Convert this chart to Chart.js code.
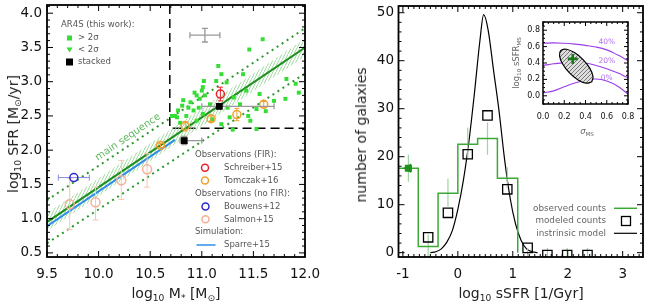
<!DOCTYPE html>
<html>
<head>
<meta charset="utf-8">
<script src="https://cdn.jsdelivr.net/npm/chart.js@4.4.1/dist/chart.umd.min.js"></script>
<style>
  body { margin: 0; width: 649px; height: 307px; overflow: hidden; background: #fff; position: relative; font-family: "DejaVu Sans", sans-serif; }
  canvas { position: absolute; }
  .lbl { position: absolute; white-space: nowrap; color: #222; font-size: 14px; transform: translate(-50%, -50%); }
  .rot { transform: translate(-50%, -50%) rotate(-90deg); }
  .lbl sub { font-size: 0.65em; vertical-align: -0.35em; line-height: 0; }
  .small { font-size: 8.5px; color: #666; }
</style>
</head>
<body>
<canvas id="left" width="330" height="307" style="left:0;top:0"></canvas>
<canvas id="right" width="319" height="307" style="left:330px;top:0"></canvas>
<canvas id="inset" width="130" height="125" style="left:505px;top:12px"></canvas>
<div class="lbl rot" style="left:13px;top:134px">log<sub>10</sub> SFR [M<sub>⊙</sub>/yr]</div>
<div class="lbl" style="left:176px;top:293px">log<sub>10</sub> M<sub>*</sub> [M<sub>⊙</sub>]</div>
<div class="lbl rot" style="left:361px;top:135px">number of galaxies</div>
<div class="lbl" style="left:521px;top:293px">log<sub>10</sub> sSFR [1/Gyr]</div>
<div class="lbl rot small" style="left:516px;top:63px">log<sub>10</sub> sSFR<sub>MS</sub></div>
<div class="lbl small" style="left:587px;top:131px"><i>σ</i><sub>MS</sub></div>
<script>
// ── LEFT PANEL: SFR vs stellar mass ───────────────────────

const massRange = [9.5, 12.0];
const sfrRange = [0.44, 4.12];
const massTicks = [9.5, 10.0, 10.5, 11.0, 11.5, 12.0];
const sfrTicks = [0.5, 1.0, 1.5, 2.0, 2.5, 3.0, 3.5, 4.0];

const msMass = [9.5, 12.0];
const msSfr = [0.95, 3.50];
const msUpper = [1.27, 3.78];
const msLower = [0.64, 3.12];
const bandUpper = [1.08, 3.63];
const bandLower = [0.82, 3.37];
const sparreMass = [9.5, 10.74];
const sparreSfr = [0.89, 2.15];
const cutMass = 10.69;
const cutSfr = 2.32;

const detMass = [11.59, 11.46, 11.16, 11.91, 11.82, 11.19, 11.14, 11.24, 11.01, 11.00, 10.93, 10.95, 11.03, 10.82,
  10.89, 10.81, 10.87, 10.77, 10.92, 10.74, 10.85, 10.98, 11.08, 11.31, 11.37, 11.43, 11.53, 11.81, 11.45, 11.47,
  11.27, 11.19, 11.40, 11.56, 11.01, 10.95, 10.71, 10.76, 11.94, 11.02, 11.53, 11.30, 10.79, 11.10, 11.62, 11.70,
  11.25, 10.97];
const detSfr = [3.62, 3.47, 3.23, 2.97, 3.04, 3.11, 3.01, 2.99, 2.92, 2.87, 2.84, 2.80, 2.80, 2.73,
  2.70, 2.65, 2.62, 2.58, 2.58, 2.50, 2.50, 2.75, 2.67, 2.77, 2.67, 2.87, 2.60, 2.75, 2.50, 2.43,
  2.48, 2.38, 3.11, 2.82, 2.53, 2.43, 2.50, 2.48, 2.84, 3.01, 2.31, 2.30, 2.40, 2.45, 2.57, 2.72,
  2.62, 2.62];

const stackMass = [10.83, 11.17];
const stackSfr = [2.14, 2.64];
const stackMassLo = [10.79, 11.00];
const stackMassHi = [11.00, 11.70];
const stackSfrErr = [0.06, 0.04];

const schMass = [11.18];
const schSfr = [2.82];
const schErr = [0.10];

const tomMass = [10.60, 10.84, 11.09, 11.34, 11.60];
const tomSfr = [2.07, 2.35, 2.46, 2.52, 2.67];
const tomErr = [0.03, 0.07, 0.04, 0.09, 0.04];

const bouMass = [9.76];
const bouSfr = [1.60];
const bouMassErr = [0.15];

const salMass = [9.72, 9.97, 10.22, 10.47];
const salSfr = [1.21, 1.24, 1.56, 1.72];
const salErrUp = [0.38, 0.22, 0.29, 0.23];
const salErrDn = [0.37, 0.26, 0.28, 0.26];

const typMass = [11.03];
const typSfr = [3.68];
const typMassErr = [0.145];
const typSfrErr = [0.10];

// ── RIGHT PANEL: sSFR histogram ───────────────────────────

const ssfrRange = [-1.08, 3.37];
const countRange = [-0.9, 51.4];
const ssfrTicks = [-1, 0, 1, 2, 3];
const countTicks = [0, 10, 20, 30, 40, 50];

const binEdges = [-1.08, -0.72, -0.36, 0.0, 0.36, 0.72, 1.09];
const obsCounts = [17.6, 1.3, 12.4, 22.6, 23.8, 15.5];
const errCenters = [-0.90, -0.54, -0.18, 0.18, 0.54, 0.90, 1.27, 1.63, 1.99, 2.36];
const errLow = [14.8, -1.0, 9.6, 19.4, 20.4, 13.4, -1.0, -1.0, -1.0, -1.0];
const errHigh = [20.4, 3.8, 15.4, 26.1, 27.1, 17.8, 1.0, 1.0, 1.0, 1.0];

const modelSsfr = [-0.54, -0.18, 0.18, 0.54, 0.90, 1.27, 1.63, 1.99, 2.36];
const modelCounts = [3.2, 8.3, 20.5, 28.6, 13.2, 1.0, -0.5, -0.5, -0.5];

const limitSsfr = [-0.90];
const limitCounts = [17.6];

const curveSsfr = [-0.50, -0.40, -0.30, -0.20, -0.10, 0.00, 0.10, 0.20, 0.30, 0.40, 0.47, 0.55, 0.65,
  0.75, 0.85, 0.95, 1.05, 1.15, 1.25, 1.35, 1.45];
const curveCounts = [0, 0.2, 0.8, 2.2, 4.6, 9.0, 15.0, 23.0, 33.0, 44.0, 49.6, 46.5, 38.0,
  29.5, 19.5, 11.5, 6.0, 2.6, 0.8, 0.2, 0];

// ── INSET: sigma_MS vs log sSFR_MS ────────────────────────

const sigRange = [0, 0.8];
const insetYRange = [-0.1, 0.9];
const sigTicks = [0, 0.2, 0.4, 0.6, 0.8];
const insetYTicks = [0, 0.2, 0.4, 0.6, 0.8];

const sigGrid = [0, 0.1, 0.2, 0.3, 0.4, 0.5, 0.6, 0.7, 0.8];
const frac40 = [0.64, 0.645, 0.64, 0.63, 0.615, 0.595, 0.56, 0.50, 0.43];
const frac20 = [0.37, 0.39, 0.405, 0.41, 0.40, 0.37, 0.33, 0.28, 0.22];
const frac0 = [0.035, 0.06, 0.11, 0.155, 0.19, 0.205, 0.18, 0.12, 0.02];
const fracNames = ["40%", "20%", "0%"];
const fracSig = [0.6, 0.6, 0.6];
const fracY = [0.65, 0.426, 0.221];

const ellSig = [0.458, 0.471, 0.441, 0.377, 0.296, 0.220, 0.168, 0.156, 0.185, 0.249, 0.330, 0.407, 0.458];
const ellY = [0.168, 0.235, 0.335, 0.442, 0.527, 0.568, 0.553, 0.487, 0.387, 0.279, 0.194, 0.154, 0.168];
const bestSig = [0.28];
const bestY = [0.45];

// ── HELPERS ───────────────────────────────────────────────

const FONT = '"DejaVu Sans", sans-serif';
Chart.defaults.font.family = FONT;
Chart.defaults.color = "#111";
Chart.defaults.animation = false;

function pts(xs, ys) { return xs.map((x, i) => ({ x, y: ys[i] })); }

function hatch(line, bg, w, h) {
  const c = document.createElement("canvas");
  c.width = w; c.height = h;
  const g = c.getContext("2d");
  if (bg) { g.fillStyle = bg; g.fillRect(0, 0, w, h); }
  g.strokeStyle = line; g.lineWidth = 1;
  g.beginPath(); g.moveTo(0, h); g.lineTo(w, 0); g.stroke();
  return g.createPattern(c, "repeat");
}

function axis(range, ticks, fmt, size, pad, fit, horiz) {
  return {
    type: "linear", min: range[0], max: range[1],
    afterBuildTicks: s => { s.ticks = ticks.map(v => ({ value: v })); },
    afterFit: s => {
      if (horiz) s.height = fit; else s.width = fit;
      s.paddingTop = 0; s.paddingBottom = 0; s.paddingLeft = 0; s.paddingRight = 0;
    },
    grid: { display: false, drawTicks: false },
    border: { display: false },
    ticks: { font: { size }, color: "#111", padding: pad, maxRotation: 0, autoSkip: false, callback: fmt },
  };
}

// box with inward major and minor ticks on every side
function framePlugin(o) {
  return {
    id: "frame",
    afterDraw(chart) {
      const { ctx, chartArea: a, scales: { x, y } } = chart;
      ctx.save();
      ctx.strokeStyle = "#000";
      ctx.lineWidth = 1;
      ctx.beginPath();
      const marks = (scale, minor, major, cb) => {
        for (let n = Math.ceil(scale.min / minor - 1e-6); n * minor <= scale.max + 1e-9; n++) {
          const v = n * minor;
          const isMajor = Math.abs(v / major - Math.round(v / major)) < 1e-6;
          cb(scale.getPixelForValue(v), isMajor ? o.major : o.minor);
        }
      };
      marks(x, o.xMinor, o.xMajor, (p, l) => {
        ctx.moveTo(p, a.bottom); ctx.lineTo(p, a.bottom - l);
        ctx.moveTo(p, a.top); ctx.lineTo(p, a.top + l);
      });
      marks(y, o.yMinor, o.yMajor, (p, l) => {
        ctx.moveTo(a.left, p); ctx.lineTo(a.left + l, p);
        ctx.moveTo(a.right, p); ctx.lineTo(a.right - l, p);
      });
      ctx.stroke();
      ctx.lineWidth = o.lw;
      ctx.strokeRect(a.left, a.top, a.right - a.left, a.bottom - a.top);
      ctx.restore();
    },
  };
}

const errorBars = {
  id: "errorBars",
  beforeDatasetDraw(chart, args) {
    const ds = chart.data.datasets[args.index];
    if (!ds.errColor) return;
    const { ctx, chartArea: a, scales: { x, y } } = chart;
    ctx.save();
    ctx.beginPath(); ctx.rect(a.left, a.top, a.right - a.left, a.bottom - a.top); ctx.clip();
    ctx.strokeStyle = ds.errColor;
    ctx.lineWidth = ds.errWidth || 1;
    const cap = ds.errCap || 0;
    ctx.beginPath();
    ds.data.forEach(p => {
      const px = x.getPixelForValue(p.x), py = y.getPixelForValue(p.y);
      if (p.yMin !== undefined) {
        const y0 = y.getPixelForValue(p.yMin), y1 = y.getPixelForValue(p.yMax);
        ctx.moveTo(px, y0); ctx.lineTo(px, y1);
        if (cap) { ctx.moveTo(px - cap, y0); ctx.lineTo(px + cap, y0); ctx.moveTo(px - cap, y1); ctx.lineTo(px + cap, y1); }
      }
      if (p.xMin !== undefined) {
        const x0 = x.getPixelForValue(p.xMin), x1 = x.getPixelForValue(p.xMax);
        ctx.moveTo(x0, py); ctx.lineTo(x1, py);
        if (cap) { ctx.moveTo(x0, py - cap); ctx.lineTo(x0, py + cap); ctx.moveTo(x1, py - cap); ctx.lineTo(x1, py + cap); }
      }
    });
    ctx.stroke();
    ctx.restore();
  },
};

function txt(ctx, s, x, y, color, size, align) {
  ctx.font = size + "px " + FONT;
  ctx.fillStyle = color;
  ctx.textAlign = align || "left";
  ctx.textBaseline = "middle";
  ctx.fillText(s, x, y);
}

function circle(ctx, x, y, r, color) {
  ctx.beginPath(); ctx.arc(x, y, r, 0, Math.PI * 2);
  ctx.strokeStyle = color; ctx.lineWidth = 1.5; ctx.stroke();
}

const lineDs = (data, color, width, extra) => Object.assign({
  data, showLine: true, borderColor: color, borderWidth: width, pointRadius: 0, fill: false, tension: 0,
}, extra || {});

// ── LEFT CHART ────────────────────────────────────────────

const leftDecor = {
  id: "leftDecor",
  afterDatasetsDraw(chart) {
    const { ctx, scales: { x, y } } = chart;
    ctx.save();
    const x0 = x.getPixelForValue(msMass[0]), y0 = y.getPixelForValue(msSfr[0]);
    const x1 = x.getPixelForValue(msMass[1]), y1 = y.getPixelForValue(msSfr[1]);
    ctx.translate(x.getPixelForValue(10.285), y.getPixelForValue(2.19));
    ctx.rotate(Math.atan2(y1 - y0, x1 - x0));
    txt(ctx, "main sequence", 0, 0, "#5cb85c", 10, "center");
    ctx.restore();

    ctx.save();
    const grey = "#555";
    txt(ctx, "AR4S (this work):", 61, 25, grey, 8.5);
    ctx.fillStyle = "#33dd33"; ctx.fillRect(67, 35.5, 5, 5);
    txt(ctx, "> 2σ", 78, 38, grey, 8.5);
    ctx.fillStyle = "#33dd33";
    ctx.beginPath(); ctx.moveTo(66.5, 47.5); ctx.lineTo(72.5, 47.5); ctx.lineTo(69.5, 52.5); ctx.closePath(); ctx.fill();
    txt(ctx, "< 2σ", 78, 50, grey, 8.5);
    ctx.fillStyle = "#000"; ctx.fillRect(66, 58.5, 7, 7);
    txt(ctx, "stacked", 78, 62, grey, 8.5);

    txt(ctx, "Observations (FIR):", 195, 155, grey, 8.5);
    circle(ctx, 205, 167.7, 3.5, "#e8202a");
    txt(ctx, "Schreiber+15", 224, 167.7, grey, 8.5);
    circle(ctx, 205, 180.5, 3.5, "#f0a030");
    txt(ctx, "Tomczak+16", 224, 180.5, grey, 8.5);
    txt(ctx, "Observations (no FIR):", 195, 193.3, grey, 8.5);
    circle(ctx, 205.5, 206.5, 3.5, "#2a2ad0");
    txt(ctx, "Bouwens+12", 224, 206.5, grey, 8.5);
    circle(ctx, 205.5, 219.3, 3.5, "#f4b096");
    txt(ctx, "Salmon+15", 224, 219.3, grey, 8.5);
    txt(ctx, "Simulation:", 195, 231.7, grey, 8.5);
    ctx.strokeStyle = "#2e8ee8"; ctx.lineWidth = 1.5;
    ctx.beginPath(); ctx.moveTo(196.5, 245); ctx.lineTo(215.5, 245); ctx.stroke();
    txt(ctx, "Sparre+15", 224, 245, grey, 8.5);
    ctx.restore();
  },
};

const leftCtx = document.getElementById("left").getContext("2d");
const bandPattern = hatch("#9cd89c", null, 3, 6);

new Chart(leftCtx, {
  type: "line",
  data: {
    datasets: [
      { data: stackMass.map((m, i) => ({ x: m, y: stackSfr[i], xMin: stackMassLo[i], xMax: stackMassHi[i],
          yMin: stackSfr[i] - stackSfrErr[i], yMax: stackSfr[i] + stackSfrErr[i] })),
        showLine: false, pointStyle: "rect", pointRadius: 4.8, backgroundColor: "#000", borderColor: "#000",
        borderWidth: 0, errColor: "#999", errWidth: 1.3, errCap: 3 },
      { data: schMass.map((m, i) => ({ x: m, y: schSfr[i], yMin: schSfr[i] - schErr[i], yMax: schSfr[i] + schErr[i] })),
        showLine: false, pointRadius: 4, borderColor: "#e8202a", backgroundColor: "rgba(0,0,0,0)", borderWidth: 1.5,
        errColor: "#e8202a", errCap: 2.5 },
      { data: tomMass.map((m, i) => ({ x: m, y: tomSfr[i], yMin: tomSfr[i] - tomErr[i], yMax: tomSfr[i] + tomErr[i] })),
        showLine: false, pointRadius: 4, borderColor: "#f0a030", backgroundColor: "rgba(0,0,0,0)", borderWidth: 1.5,
        errColor: "#f0a030", errCap: 2.5 },
      { data: bouMass.map((m, i) => ({ x: m, y: bouSfr[i], xMin: m - bouMassErr[i], xMax: m + bouMassErr[i] })),
        showLine: false, pointRadius: 4, borderColor: "#2a2ad0", backgroundColor: "rgba(0,0,0,0)", borderWidth: 1.5,
        errColor: "#8c8ce0", errCap: 3 },
      { data: salMass.map((m, i) => ({ x: m, y: salSfr[i], yMin: salSfr[i] - salErrDn[i], yMax: salSfr[i] + salErrUp[i] })),
        showLine: false, pointRadius: 4.5, borderColor: "#f4b096", backgroundColor: "rgba(0,0,0,0)", borderWidth: 1.5,
        errColor: "#f7c7b2", errCap: 3 },
      { data: typMass.map((m, i) => ({ x: m, y: typSfr[i], xMin: m - typMassErr[i], xMax: m + typMassErr[i],
          yMin: typSfr[i] - typSfrErr[i], yMax: typSfr[i] + typSfrErr[i] })),
        showLine: false, pointRadius: 0, errColor: "#999", errWidth: 1.3, errCap: 3 },
      { data: pts(detMass, detSfr), showLine: false, pointStyle: "rect", pointRadius: 2.8,
        backgroundColor: "#33dd33", borderWidth: 0 },
      lineDs(pts(sparreMass, sparreSfr), "#2e8ee8", 2),
      lineDs(pts(msMass, msSfr), "#1f8f1f", 2),
      lineDs(pts(msMass, msUpper), "#2a9a2a", 2, { borderDash: [2, 4] }),
      lineDs(pts(msMass, msLower), "#2a9a2a", 2, { borderDash: [2, 4] }),
      lineDs(pts(msMass, bandUpper), "rgba(0,0,0,0)", 0, { fill: "+1", backgroundColor: bandPattern }),
      lineDs(pts(msMass, bandLower), "rgba(0,0,0,0)", 0),
      lineDs([{ x: cutMass, y: sfrRange[1] }, { x: cutMass, y: cutSfr }, { x: massRange[1], y: cutSfr }],
        "#000", 1.5, { borderDash: [9, 5] }),
    ],
  },
  options: {
    responsive: false,
    events: [],
    layout: { autoPadding: false, padding: { left: 0, right: 25, top: 5, bottom: 0 } },
    plugins: { legend: { display: false }, tooltip: { enabled: false } },
    scales: {
      x: axis(massRange, massTicks, v => v.toFixed(1), 13.5, 9, 50, true),
      y: axis(sfrRange, sfrTicks, v => v.toFixed(1), 13.5, 5, 47, false),
    },
  },
  plugins: [errorBars, leftDecor, framePlugin({ xMajor: 0.5, xMinor: 0.1, yMajor: 0.5, yMinor: 0.1, major: 6, minor: 3, lw: 1.8 })],
});

// ── RIGHT CHART ───────────────────────────────────────────

const rightDecor = {
  id: "rightDecor",
  afterDatasetsDraw(chart) {
    const { ctx } = chart;
    ctx.save();
    const grey = "#666";
    txt(ctx, "observed counts", 276, 208.3, grey, 8.8, "right");
    ctx.strokeStyle = "#3aaa35"; ctx.lineWidth = 1.5;
    ctx.beginPath(); ctx.moveTo(284, 208.3); ctx.lineTo(307, 208.3); ctx.stroke();
    txt(ctx, "modeled counts", 276, 221, grey, 8.8, "right");
    ctx.strokeStyle = "#000"; ctx.lineWidth = 1.3;
    ctx.strokeRect(291.5, 216.5, 9, 9);
    txt(ctx, "instrinsic model", 276, 233.3, grey, 8.8, "right");
    ctx.lineWidth = 1.2;
    ctx.beginPath(); ctx.moveTo(284, 233.3); ctx.lineTo(307, 233.3); ctx.stroke();
    ctx.restore();
  },
};

const stepPoints = obsCounts.map((c, i) => ({ x: binEdges[i], y: c }))
  .concat([{ x: binEdges[binEdges.length - 1], y: 0 }]);

new Chart(document.getElementById("right"), {
  type: "line",
  data: {
    datasets: [
      { data: pts(modelSsfr, modelCounts), showLine: false, pointStyle: "rect", pointRadius: 6.6,
        borderColor: "#000", backgroundColor: "rgba(0,0,0,0)", borderWidth: 1.3 },
      { data: pts(limitSsfr, limitCounts), showLine: false, pointStyle: "rect", pointRadius: 5,
        backgroundColor: "#1f8f1f", borderWidth: 0 },
      { data: pts(limitSsfr, limitCounts), showLine: false, pointStyle: "triangle", rotation: -90, pointRadius: 5.5,
        backgroundColor: "#1f8f1f", borderWidth: 0 },
      lineDs(stepPoints, "#3aaa35", 1.5, { stepped: "before" }),
      { data: errCenters.map((c, i) => ({ x: c, y: (errLow[i] + errHigh[i]) / 2, yMin: errLow[i], yMax: errHigh[i] })),
        showLine: false, pointRadius: 0, errColor: "#9fd49f", errWidth: 1.2 },
      lineDs(pts(curveSsfr, curveCounts), "#000", 1.2, { cubicInterpolationMode: "monotone" }),
    ],
  },
  options: {
    responsive: false,
    events: [],
    layout: { autoPadding: false, padding: { left: 0, right: 6, top: 6, bottom: 0 } },
    plugins: { legend: { display: false }, tooltip: { enabled: false } },
    scales: {
      x: axis(ssfrRange, ssfrTicks, v => String(v), 13.5, 9, 50, true),
      y: axis(countRange, countTicks, v => String(v), 13.5, 4.5, 68.5, false),
    },
  },
  plugins: [errorBars, rightDecor, framePlugin({ xMajor: 1, xMinor: 0.1, yMajor: 10, yMinor: 2, major: 6, minor: 3, lw: 1.8 })],
});

// ── INSET CHART ───────────────────────────────────────────

const insetDecor = {
  id: "insetDecor",
  afterDatasetsDraw(chart) {
    const { ctx, scales: { x, y } } = chart;
    ctx.save();
    fracNames.forEach((n, i) => {
      txt(ctx, n, x.getPixelForValue(fracSig[i]), y.getPixelForValue(fracY[i]), "#b070f0", 7.5, "center");
    });
    ctx.restore();
  },
};

const insetCtx = document.getElementById("inset").getContext("2d");
const ellPattern = hatch("#777", "#dedede", 4, 4);

new Chart(insetCtx, {
  type: "line",
  data: {
    datasets: [
      { data: pts(bestSig, bestY), showLine: false, pointStyle: "cross", pointRadius: 5,
        borderColor: "#1a7a1a", borderWidth: 2.6 },
      lineDs(pts(ellSig, ellY), "#000", 1.2, { fill: "shape", backgroundColor: ellPattern, tension: 0.4 }),
      lineDs(pts(sigGrid, frac40), "#9a3ee6", 1.1, { tension: 0.4 }),
      lineDs(pts(sigGrid, frac20), "#9a3ee6", 1.1, { tension: 0.4 }),
      lineDs(pts(sigGrid, frac0), "#9a3ee6", 1.1, { tension: 0.4 }),
    ],
  },
  options: {
    responsive: false,
    events: [],
    layout: { autoPadding: false, padding: { left: 0, right: 7, top: 10, bottom: 0 } },
    plugins: { legend: { display: false }, tooltip: { enabled: false } },
    scales: {
      x: axis(sigRange, sigTicks, v => v.toFixed(1), 8, 8, 33, true),
      y: axis(insetYRange, insetYTicks, v => v.toFixed(1), 8, 3, 38, false),
    },
  },
  plugins: [insetDecor, framePlugin({ xMajor: 0.2, xMinor: 0.05, yMajor: 0.2, yMinor: 0.05, major: 4, minor: 2, lw: 1.5 })],
});
</script>
</body>
</html>
